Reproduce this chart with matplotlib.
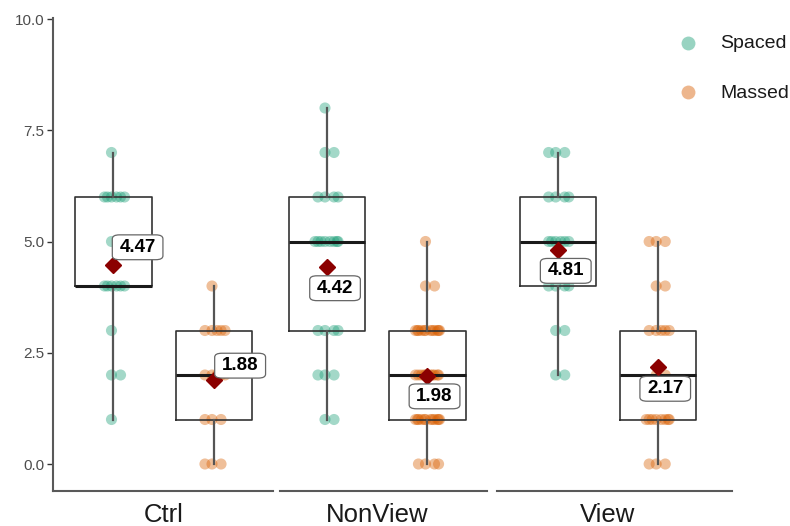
import matplotlib
matplotlib.use("Agg")
import matplotlib.pyplot as plt
from matplotlib.lines import Line2D

plt.rcParams['font.family'] = ['Liberation Sans', 'DejaVu Sans']

# -----------------------------------------------------------------
# data
# -----------------------------------------------------------------
groups = ["Ctrl", "NonView", "View"]
types = ["Spaced", "Massed"]

ctrl_spaced = [1, 2, 2, 3, 4, 4, 4, 4, 4, 4, 5, 5, 6, 6, 6, 6, 6, 6, 7]
ctrl_massed = [0, 0, 0, 1, 1, 1, 2, 2, 2, 2, 2, 3, 3, 3, 3, 3, 4]
nonview_spaced = [1, 1, 2, 2, 2, 3, 3, 3, 3, 5, 5, 5, 5, 5, 5, 5, 5,
                  6, 6, 6, 6, 7, 7, 8]
nonview_massed = [0, 0, 0, 0] + [1] * 12 + [2] * 10 + [3] * 12 + [4, 4, 5]
view_spaced = [2, 2, 3, 3, 4, 4, 4, 4, 5, 5, 5, 5, 5, 5, 6, 6, 6, 6, 7, 7, 7]
view_massed = [0, 0, 0] + [1] * 8 + [2, 2] + [3] * 5 + [4, 4, 5, 5, 5]

spaced_means = [4.47, 4.42, 4.81]
massed_means = [1.88, 1.98, 2.17]

yticks = [0.0, 2.5, 5.0, 7.5, 10.0]

data = [[ctrl_spaced, ctrl_massed],
        [nonview_spaced, nonview_massed],
        [view_spaced, view_massed]]
means = [[spaced_means[i], massed_means[i]] for i in range(3)]

# -----------------------------------------------------------------
# layout / style
# -----------------------------------------------------------------
colors = ["#1b9e77", "#d95f02"]
W, H = 790, 526
ppu = 100.5                # px per box step
panels = [(53, 273, 113.5), (280, 487, 327), (497, 732, 557.7)]
y_px0, y_ppu = 464, 44.5   # pixel of y=0, px per unit
top_px, bot_px = 18, 491

label_dx = [[0.24, 0.26], [0.08, 0.07], [0.08, 0.07]]
label_dy = [[0.40, 0.33], [-0.47, -0.46], [-0.47, -0.48]]
jit = [-0.02, 0.07, -0.09, 0.11, 0.03, -0.06, 0.10, -0.12, 0.05, -0.03,
       0.12, -0.10]

fig = plt.figure(figsize=(W / 100, H / 100), dpi=100)

for i, (x0, x1, c) in enumerate(panels):
    ax = fig.add_axes([x0 / W, (H - bot_px) / H, (x1 - x0) / W,
                       (bot_px - top_px) / H])
    ax.set_xlim((x0 - c) / ppu, (x1 - c) / ppu)
    ax.set_ylim((y_px0 - bot_px) / y_ppu, (y_px0 - top_px) / y_ppu)

    for j in range(2):
        vals = data[i][j]
        seen = {}
        xs = []
        for v in vals:
            k = seen.get(v, 0)
            seen[v] = k + 1
            xs.append(j + jit[k % len(jit)])
        ax.scatter(xs, vals, s=64, color=colors[j], alpha=0.4,
                   edgecolors='none', zorder=1)

    ax.boxplot(data[i], positions=[0, 1], widths=0.76, showfliers=False,
               showcaps=False, manage_ticks=False, zorder=2,
               boxprops=dict(color='#333333', linewidth=1.2),
               medianprops=dict(color='#1a1a1a', linewidth=2.2),
               whiskerprops=dict(color='#555555', linewidth=1.6))

    for j in range(2):
        m = means[i][j]
        ax.plot([j], [m], marker='D', ms=8.5, color='#8b0000',
                linestyle='none', zorder=4)
        ax.text(j + label_dx[i][j], m + label_dy[i][j], f"{m:.2f}",
                ha='center', va='center', fontsize=13.5, fontweight='bold',
                color='black', zorder=5,
                bbox=dict(boxstyle='round,pad=0.38', fc='white',
                          ec='#666666', lw=0.9, mutation_aspect=0.55))

    for s in ['top', 'right']:
        ax.spines[s].set_visible(False)
    ax.spines['bottom'].set_color('#595959')
    ax.spines['bottom'].set_linewidth(1.5)
    ax.set_xticks([0.5])
    ax.set_xticklabels([groups[i]], fontsize=18.5, color='#1a1a1a')
    ax.tick_params(axis='x', length=0, pad=9)
    if i == 0:
        ax.spines['left'].set_color('#595959')
        ax.spines['left'].set_linewidth(1.5)
        ax.set_yticks(yticks)
        ax.set_yticklabels([f"{t:.1f}" for t in yticks], fontsize=11,
                           color='#4d4d4d')
        ax.tick_params(axis='y', length=4, width=1, color='#333333', pad=2)
    else:
        ax.spines['left'].set_visible(False)
        ax.set_yticks([])
    ax.patch.set_alpha(0)

# legend
for j, (t, ypx) in enumerate(zip(types, [43, 92])):
    fig.add_artist(Line2D([688 / W], [1 - ypx / H], transform=fig.transFigure,
                          marker='o', ms=10, color=colors[j], alpha=0.45,
                          markeredgewidth=0, linestyle='none'))
    fig.text(720 / W, 1 - (ypx + 1) / H, t, fontsize=14, color='#1a1a1a',
             va='center', ha='left')

plt.savefig('out.png', dpi=100)
